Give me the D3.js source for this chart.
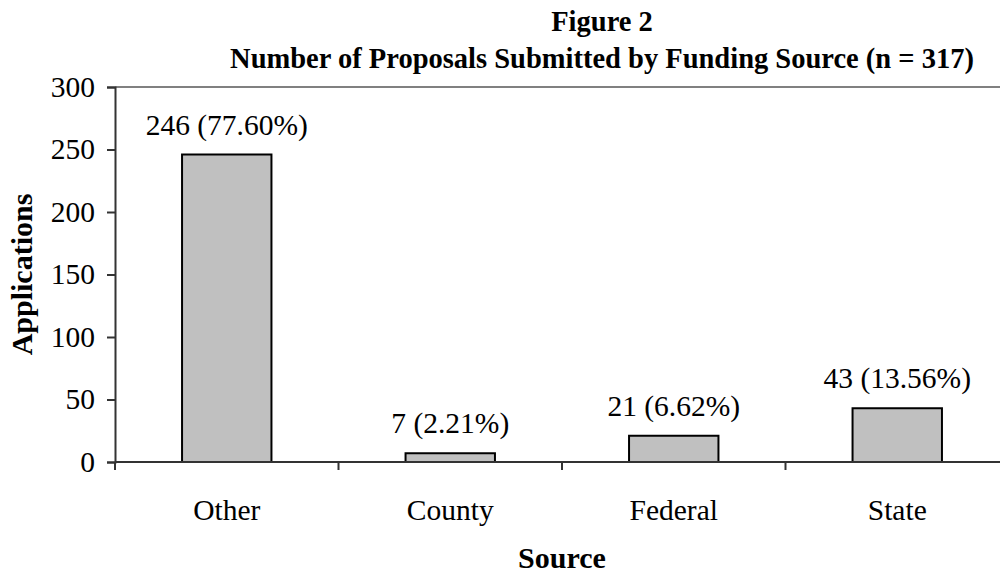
<!DOCTYPE html>
<html>
<head>
<meta charset="utf-8">
<script src="https://cdn.jsdelivr.net/npm/d3@7"></script>
<style>
  body { margin: 0; background: #fff; }
  text { font-family: "Liberation Serif", "Times New Roman", serif; }
</style>
</head>
<body>
<svg id="chart" width="1000" height="575"></svg>
<script>
// Data
const categories = ["Other", "County", "Federal", "State"];
const counts = [246, 7, 21, 43];
const percents = ["77.60%", "2.21%", "6.62%", "13.56%"];
const yTicks = [0, 50, 100, 150, 200, 250, 300];

const svg = d3.select("#chart");
const plotLeft = 115, plotRight = 1009, plotTop = 87, plotBottom = 462;
const labelSize = 29.5;

const x = d3.scaleBand()
    .domain(categories)
    .range([plotLeft, plotRight])
    .paddingInner(0.6)
    .paddingOuter(0.3);

const y = d3.scaleLinear()
    .domain([0, 300])
    .range([plotBottom, plotTop]);

// top border of plot area
svg.append("line")
    .attr("x1", plotLeft).attr("x2", plotRight)
    .attr("y1", y(300)).attr("y2", y(300))
    .attr("stroke", "#808080").attr("stroke-width", 2);

// bars
svg.selectAll("rect.bar")
    .data(categories)
    .enter()
    .append("rect")
    .attr("class", "bar")
    .attr("x", d => x(d))
    .attr("y", (d, i) => y(counts[i]))
    .attr("width", x.bandwidth())
    .attr("height", (d, i) => y(0) - y(counts[i]))
    .attr("fill", "#c0c0c0")
    .attr("stroke", "#000")
    .attr("stroke-width", 2);

// value labels
svg.selectAll("text.val")
    .data(categories)
    .enter()
    .append("text")
    .attr("class", "val")
    .attr("x", d => x(d) + x.bandwidth() / 2)
    .attr("y", (d, i) => y(counts[i]) - 20)
    .attr("text-anchor", "middle")
    .attr("font-size", labelSize)
    .text((d, i) => `${counts[i]} (${percents[i]})`);

// y axis
const yAxis = svg.append("g")
    .attr("transform", `translate(${plotLeft},0)`)
    .call(d3.axisLeft(y).tickValues(yTicks).tickSize(8).tickPadding(12));
yAxis.select(".domain").attr("stroke", "#333").attr("stroke-width", 2);
yAxis.selectAll(".tick line").attr("stroke", "#333").attr("stroke-width", 2);
yAxis.selectAll(".tick text")
    .attr("font-size", labelSize)
    .attr("font-family", "Liberation Serif")
    .attr("fill", "#000");

// x axis: baseline with ticks between categories
const boundaries = d3.range(categories.length + 1).map(i => plotLeft + i * (plotRight - plotLeft) / categories.length);
svg.append("line")
    .attr("x1", plotLeft).attr("x2", plotRight)
    .attr("y1", y(0)).attr("y2", y(0))
    .attr("stroke", "#333").attr("stroke-width", 2);
svg.selectAll("line.xtick")
    .data(boundaries)
    .enter()
    .append("line")
    .attr("class", "xtick")
    .attr("x1", d => d).attr("x2", d => d)
    .attr("y1", y(0)).attr("y2", y(0) + 8)
    .attr("stroke", "#333").attr("stroke-width", 2);
svg.selectAll("text.xlab")
    .data(categories)
    .enter()
    .append("text")
    .attr("class", "xlab")
    .attr("x", d => x(d) + x.bandwidth() / 2)
    .attr("y", 520)
    .attr("text-anchor", "middle")
    .attr("font-size", labelSize)
    .text(d => d);

// titles
svg.append("text")
    .attr("x", 602).attr("y", 31)
    .attr("text-anchor", "middle")
    .attr("font-size", 28.5).attr("font-weight", "bold")
    .text("Figure 2");
svg.append("text")
    .attr("x", 602).attr("y", 68)
    .attr("text-anchor", "middle")
    .attr("font-size", 28.5).attr("font-weight", "bold")
    .text("Number of Proposals Submitted by Funding Source (n = 317)");

svg.append("text")
    .attr("transform", `translate(32,${(plotTop + plotBottom) / 2}) rotate(-90)`)
    .attr("text-anchor", "middle")
    .attr("font-size", 30).attr("font-weight", "bold")
    .text("Applications");

svg.append("text")
    .attr("x", 562).attr("y", 568)
    .attr("text-anchor", "middle")
    .attr("font-size", 30).attr("font-weight", "bold")
    .text("Source");
</script>
</body>
</html>
